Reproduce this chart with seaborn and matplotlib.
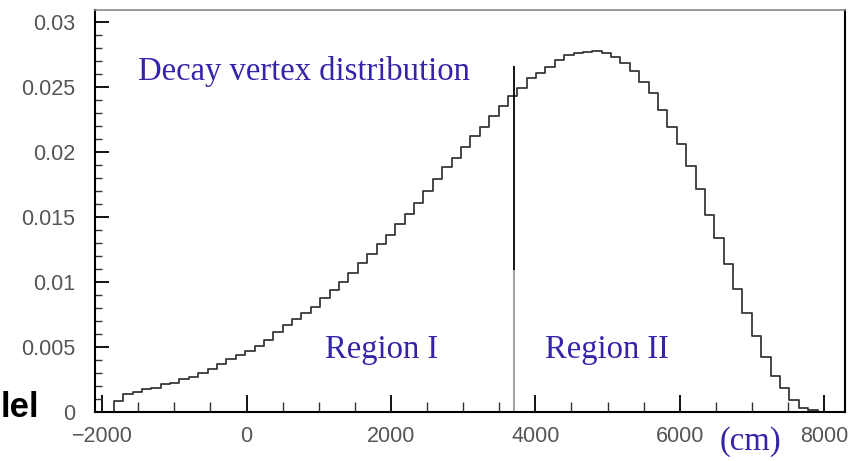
import numpy as np
import pandas as pd
import matplotlib
matplotlib.use("Agg")
import matplotlib.pyplot as plt
import seaborn as sns
from matplotlib.ticker import MultipleLocator

# ---- data ----
bin_start = -2100
bin_width = 130
density = [
    0.0, 0.0, 0.00089, 0.00138, 0.00154, 0.00180, 0.00187, 0.00215, 0.00228, 0.00256,
    0.00274, 0.00300, 0.00330, 0.00369, 0.00407, 0.00438, 0.00473, 0.00512, 0.00555, 0.00617,
    0.00670, 0.00715, 0.00765, 0.00811, 0.00876, 0.00939, 0.01003, 0.01072, 0.01144, 0.01216,
    0.01290, 0.01362, 0.01446, 0.01525, 0.01610, 0.01700, 0.01790, 0.01882, 0.01951, 0.02040,
    0.02122, 0.02189, 0.02276, 0.02353, 0.02429, 0.02488, 0.02565, 0.02608, 0.02652, 0.02706,
    0.02744, 0.02757, 0.02770, 0.02777, 0.02762, 0.02731, 0.02685, 0.02624, 0.02535, 0.02450,
    0.02322, 0.02189, 0.02058, 0.01892, 0.01713, 0.01515, 0.01336, 0.01139, 0.00945, 0.00765,
    0.00586, 0.00422, 0.00281, 0.00184, 0.00094, 0.00035, 0.00018, 0.0, 0.0, 0.0,
]
cut_x = 3700
cut_top = 0.0266
cut_mid = 0.0109
x_ticks = [-2000, 0, 2000, 4000, 6000, 8000]
y_ticks = [0, 0.005, 0.01, 0.015, 0.02, 0.025, 0.03]
y_tick_labels = ["0", "0.005", "0.01", "0.015", "0.02", "0.025", "0.03"]
title_text = "Decay vertex distribution"
region1_text = "Region I"
region2_text = "Region II"
unit_text = "(cm)"
side_text = "lel"

n_bins = len(density)
edges = bin_start + bin_width * np.arange(n_bins + 1)
centers = (edges[:-1] + edges[1:]) / 2
df = pd.DataFrame({"z": centers, "w": density})

sns.set_style("white")
fig = plt.figure(figsize=(8.55, 4.61), dpi=100)
ax = fig.add_axes([0.1111, 0.1056, 0.8772, 0.8727])

sns.histplot(data=df, x="z", weights="w", binwidth=bin_width,
             binrange=(float(edges[0]), float(edges[-1])), element="step", fill=False,
             color="#383838", linewidth=1.3, ax=ax)

ax.vlines(cut_x, cut_mid, cut_top, color="black", linewidth=1.3)
ax.vlines(cut_x, 0, cut_mid, color="#999999", linewidth=1.3)

ax.set_xlim(edges[0], edges[-1] - 10)
ax.set_ylim(0, 0.0309)
ax.set_xlabel("")
ax.set_ylabel("")

ax.set_xticks(x_ticks)
ax.set_xticklabels([str(v).replace("-", "\u2212") for v in x_ticks])
ax.set_yticks(y_ticks)
ax.set_yticklabels(y_tick_labels)
ax.xaxis.set_minor_locator(MultipleLocator(500))
ax.yaxis.set_minor_locator(MultipleLocator(0.001))

for lab in ax.get_xticklabels() + ax.get_yticklabels():
    lab.set_fontfamily("Liberation Sans")
    lab.set_fontsize(15.5)
    lab.set_color("#555555")

ax.tick_params(axis="x", which="major", direction="in", length=12, width=1.3,
               color="black", pad=10, bottom=True, top=False)
ax.tick_params(axis="x", which="minor", direction="in", length=7, width=1.0,
               color="#333333", bottom=True, top=False)
ax.tick_params(axis="y", which="major", direction="in", length=10, width=1.3,
               color="black", pad=14, left=True, right=False)
ax.tick_params(axis="y", which="minor", direction="in", length=5, width=1.0,
               color="#333333", left=True, right=False)

for side in ["left", "bottom", "right"]:
    ax.spines[side].set_color("black")
    ax.spines[side].set_linewidth(1.5)
ax.spines["top"].set_color("#888888")
ax.spines["top"].set_linewidth(1.2)

txt = dict(family="Liberation Serif", fontsize=23.5, color="#3424a8", va="baseline")
ax.text(-1503, 0.02552, title_text, ha="left", **txt)
ax.text(1087, 0.00415, region1_text, ha="left", **txt)
ax.text(4134, 0.00415, region2_text, ha="left", **txt)
ax.text(6558, -0.0029, unit_text, ha="left", clip_on=False, **txt)

fig.text(1 / 855, (461 - 417) / 461, side_text, ha="left", va="baseline",
         fontsize=25, fontweight="bold", family="Liberation Sans",
         color="black")

fig.savefig("out.png", dpi=100)
